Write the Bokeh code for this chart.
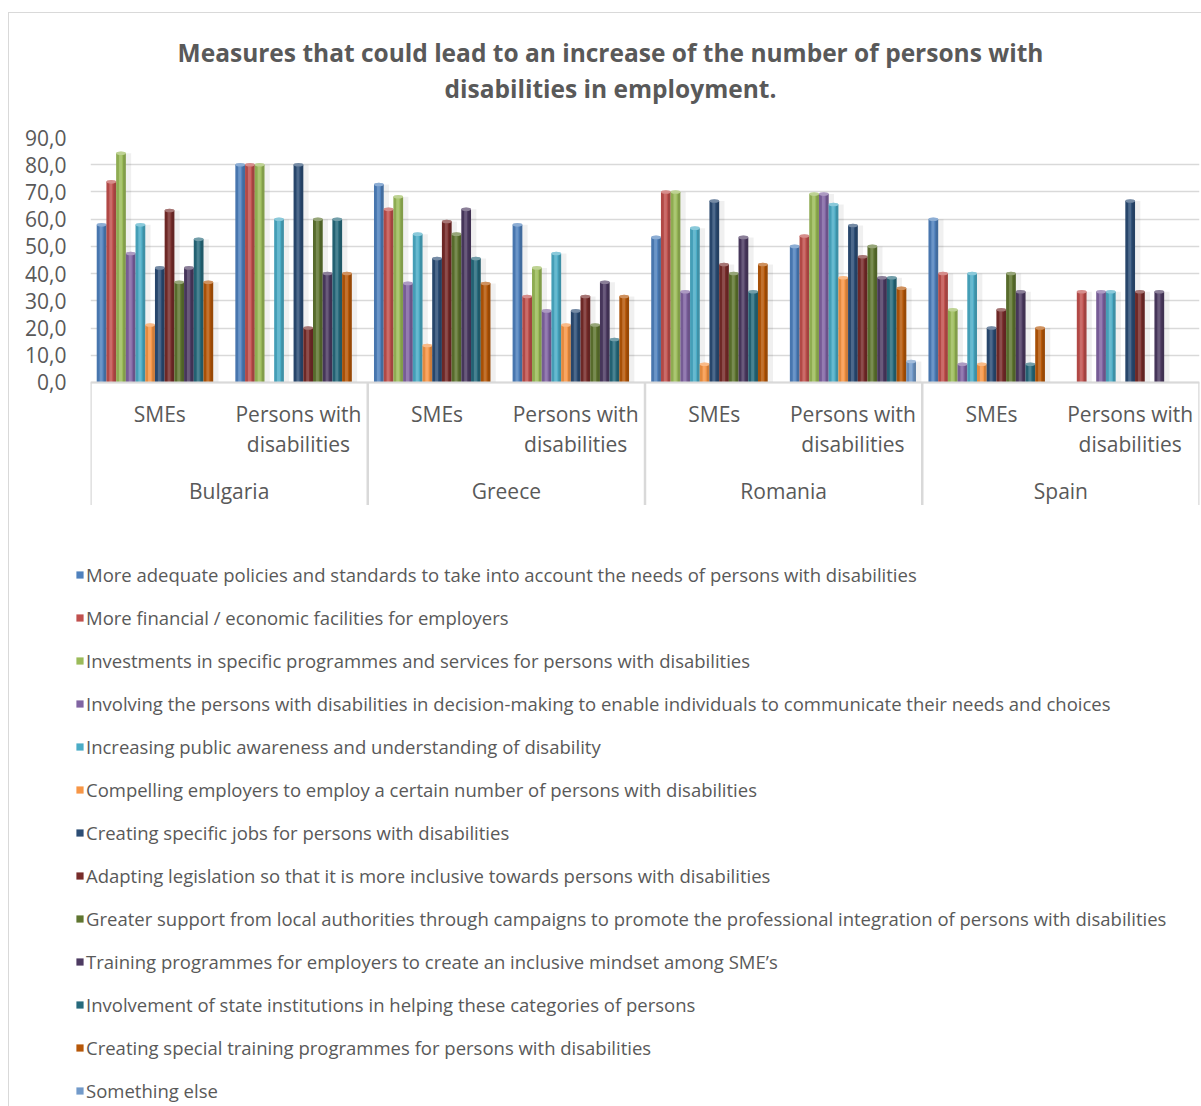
import math

from bokeh.core.properties import value
from bokeh.embed import file_html
from bokeh.layouts import column
from bokeh.models import (ColumnDataSource, CustomJSTickFormatter, FactorRange,
                          FixedTicker, Legend, LegendItem, Range1d, Span)
from bokeh.plotting import figure
from bokeh.resources import INLINE
from bokeh.transform import dodge

FONT = "Open Sans"
TEXT_GREY = "#595959"
LINE_GREY = "#d9d9d9"

title_lines = [
    "Measures that could lead to an increase of the number of persons with",
    "disabilities in employment.",
]

countries = ["Bulgaria", "Greece", "Romania", "Spain"]
respondents = ["SMEs", "Persons with disabilities"]
respondent_labels = ["SMEs", "Persons with\ndisabilities"]

measures = [
    "More adequate policies and standards to take into account the needs of persons with disabilities",
    "More financial / economic facilities for employers",
    "Investments in specific programmes and services for persons with disabilities",
    "Involving the persons with disabilities in decision-making to enable individuals to communicate their needs and choices",
    "Increasing public awareness and understanding of disability",
    "Compelling employers to employ a certain number of persons with disabilities",
    "Creating specific jobs for persons with disabilities",
    "Adapting legislation so that it is more inclusive towards persons with disabilities",
    "Greater support from local authorities through campaigns to promote the professional integration of persons with disabilities",
    "Training programmes for employers to create an inclusive mindset among SME\u2019s",
    "Involvement of state institutions in helping these categories of persons",
    "Creating special training programmes for persons with disabilities",
    "Something else",
]

colors = [
    "#4f81bd", "#c0504d", "#9bbb59", "#8064a2", "#4bacc6", "#f79646", "#2c4d75",
    "#772c2a", "#5f7530", "#4d3b62", "#276a7c", "#b65708", "#729aca",
]

# Share of respondents (%) per measure, in the order
# Bulgaria SMEs, Bulgaria PwD, Greece SMEs, Greece PwD,
# Romania SMEs, Romania PwD, Spain SMEs, Spain PwD  (None = not chosen)
adequate_policies = [57.9, 80.0, 72.7, 57.9, 53.3, 50.0, 60.0, None]
financial_facilities = [73.7, 80.0, 63.6, 31.6, 70.0, 53.8, 40.0, 33.3]
specific_programmes = [84.2, 80.0, 68.2, 42.1, 70.0, 69.2, 26.7, None]
involving_persons = [47.4, None, 36.4, 26.3, 33.3, 69.2, 6.7, 33.3]
public_awareness = [57.9, 60.0, 54.5, 47.4, 56.7, 65.4, 40.0, 33.3]
compelling_employers = [21.1, None, 13.6, 21.1, 6.7, 38.5, 6.7, None]
specific_jobs = [42.1, 80.0, 45.5, 26.3, 66.7, 57.7, 20.0, 66.7]
adapting_legislation = [63.2, 20.0, 59.1, 31.6, 43.3, 46.2, 26.7, 33.3]
local_support = [36.8, 60.0, 54.5, 21.1, 40.0, 50.0, 40.0, None]
employer_training = [42.1, 40.0, 63.6, 36.8, 53.3, 38.5, 33.3, 33.3]
state_institutions = [52.6, 60.0, 45.5, 15.8, 33.3, 38.5, 6.7, None]
special_training = [36.8, 40.0, 36.4, 31.6, 43.3, 34.6, 20.0, None]
something_else = [None, None, None, None, None, 7.7, None, None]

series = [
    adequate_policies, financial_facilities, specific_programmes, involving_persons,
    public_awareness, compelling_employers, specific_jobs, adapting_legislation,
    local_support, employer_training, state_institutions, special_training,
    something_else,
]

factors = [(c, r) for c in countries for r in respondents]

data = {"x": factors}
for i, vals in enumerate(series):
    data[f"s{i}"] = [math.nan if v is None else v for v in vals]
source = ColumnDataSource(data)

# page geometry (the chart sits inside a thin grey frame)
PAGE_W, PAGE_H = 1201, 1106
EDGE_X, EDGE_Y = 9, 13
INNER_W = PAGE_W - EDGE_X
TITLE_H = 110
CHART_TOP = 14
CHART_H = 368 + CHART_TOP
LEGEND_H = PAGE_H - EDGE_Y - TITLE_H - CHART_H


def blank_panel(height):
    f = figure(width=INNER_W, height=height,
               x_range=Range1d(0, INNER_W), y_range=Range1d(0, height),
               min_border=0, output_backend="svg", toolbar_location=None,
               background_fill_color="white", border_fill_color="white")
    f.axis.visible = False
    f.grid.visible = False
    f.outline_line_color = None
    f.frame_align = False
    return f


# title block
head = blank_panel(TITLE_H)
head.text(x=[601, 601], y=[TITLE_H - 39, TITLE_H - 75], text=title_lines,
          text_font=value(FONT), text_font_size="24.5px", text_font_style="bold",
          text_color=TEXT_GREY, text_align="center", text_baseline="middle")

# bar chart
Y_MIN, Y_MAX = -45.2, 90
p = figure(
    x_range=FactorRange(*factors, factor_padding=0, group_padding=0,
                        subgroup_padding=0, range_padding=0),
    y_range=Range1d(Y_MIN, Y_MAX),
    width=INNER_W, height=CHART_H,
    min_border_left=81, min_border_right=2, min_border_top=CHART_TOP, min_border_bottom=0,
    output_backend="svg", toolbar_location=None,
    background_fill_color="white", border_fill_color="white",
)
p.frame_align = False
p.outline_line_color = None
p.xaxis.visible = False
p.xgrid.visible = False

ticks = list(range(0, 91, 10))
p.yaxis.ticker = FixedTicker(ticks=ticks)
p.yaxis.formatter = CustomJSTickFormatter(code="return tick.toFixed(1).replace('.', ',');")
p.yaxis.axis_line_color = None
p.yaxis.major_tick_line_color = None
p.yaxis.minor_tick_line_color = None
p.yaxis.major_label_text_font = FONT
p.yaxis.major_label_text_font_size = "21px"
p.yaxis.major_label_text_color = TEXT_GREY
p.yaxis.major_label_standoff = 18
p.ygrid.ticker = FixedTicker(ticks=ticks)
p.ygrid.grid_line_color = LINE_GREY
p.ygrid.grid_line_width = 1.6

# category axis: base line, country separators and labels
p.add_layout(Span(location=0, dimension="width", line_color=LINE_GREY, line_width=2))
bounds = [len(respondents) * i for i in range(len(countries) + 1)]
p.segment(x0=bounds, x1=bounds, y0=[0] * len(bounds), y1=[Y_MIN] * len(bounds),
          line_color=LINE_GREY, line_width=2.5)

p.text(x=factors, y=[-6.4] * len(factors),
       text=[respondent_labels[respondents.index(r)] for _, r in factors],
       text_font=value(FONT), text_font_size="21px", text_color=TEXT_GREY,
       text_align="center", text_baseline="top", text_line_height=1.08)
p.text(x=countries, y=[-39.7] * len(countries), text=countries,
       text_font=value(FONT), text_font_size="21px", text_color=TEXT_GREY,
       text_align="center", text_baseline="middle")

# cylinder-style bars, one slot per measure inside each respondent group
n = len(series)
slot = 0.91 / n
offsets = [(i - (n - 1) / 2) * slot for i in range(n)]

for i in range(n):
    p.vbar(x=dodge("x", offsets[i] + 0.3 * slot, range=p.x_range), top=f"s{i}",
           width=slot * 1.5, source=source, fill_color="black", fill_alpha=0.06,
           line_color=None)

for i in range(n):
    col = f"s{i}"
    p.vbar(x=dodge("x", offsets[i], range=p.x_range), top=col, width=slot,
           source=source, fill_color=colors[i], line_color=None)
    p.vbar(x=dodge("x", offsets[i] + 0.36 * slot, range=p.x_range), top=col,
           width=slot * 0.28, source=source, fill_color="black", fill_alpha=0.16,
           line_color=None)
    p.vbar(x=dodge("x", offsets[i] - 0.36 * slot, range=p.x_range), top=col,
           width=slot * 0.28, source=source, fill_color="black", fill_alpha=0.08,
           line_color=None)
    p.vbar(x=dodge("x", offsets[i] - 0.05 * slot, range=p.x_range), top=col,
           width=slot * 0.3, source=source, fill_color="white", fill_alpha=0.16,
           line_color=None)
    p.ellipse(x=dodge("x", offsets[i], range=p.x_range), y=col, width=slot,
              height=1.3, source=source, fill_color=colors[i], line_color=None)
    p.ellipse(x=dodge("x", offsets[i], range=p.x_range), y=col, width=slot,
              height=1.3, source=source, fill_color="white", fill_alpha=0.35,
              line_color=None)

# legend panel below the chart, one swatch per measure
leg = blank_panel(LEGEND_H)
swatches = [leg.vbar(x=[-50], top=[-50], width=1, fill_color=c, line_color=None)
            for c in colors]
legend = Legend(
    items=[LegendItem(label=m, renderers=[r]) for m, r in zip(measures, swatches)],
    location=(75 - EDGE_X, 3),
    orientation="vertical",
    glyph_width=9, glyph_height=9, label_height=25, spacing=18,
    label_standoff=2, padding=0, margin=0,
    label_text_font=FONT, label_text_font_size="18.5px", label_text_color=TEXT_GREY,
    border_line_color=None, background_fill_alpha=0,
)
leg.add_layout(legend, "center")

page = column(head, p, leg, spacing=0, margin=(EDGE_Y - 1, 0, 0, EDGE_X - 1),
              styles={"border-left": f"1px solid {LINE_GREY}",
                      "border-top": f"1px solid {LINE_GREY}"})

open("out.html", "w").write(file_html(page, INLINE))
